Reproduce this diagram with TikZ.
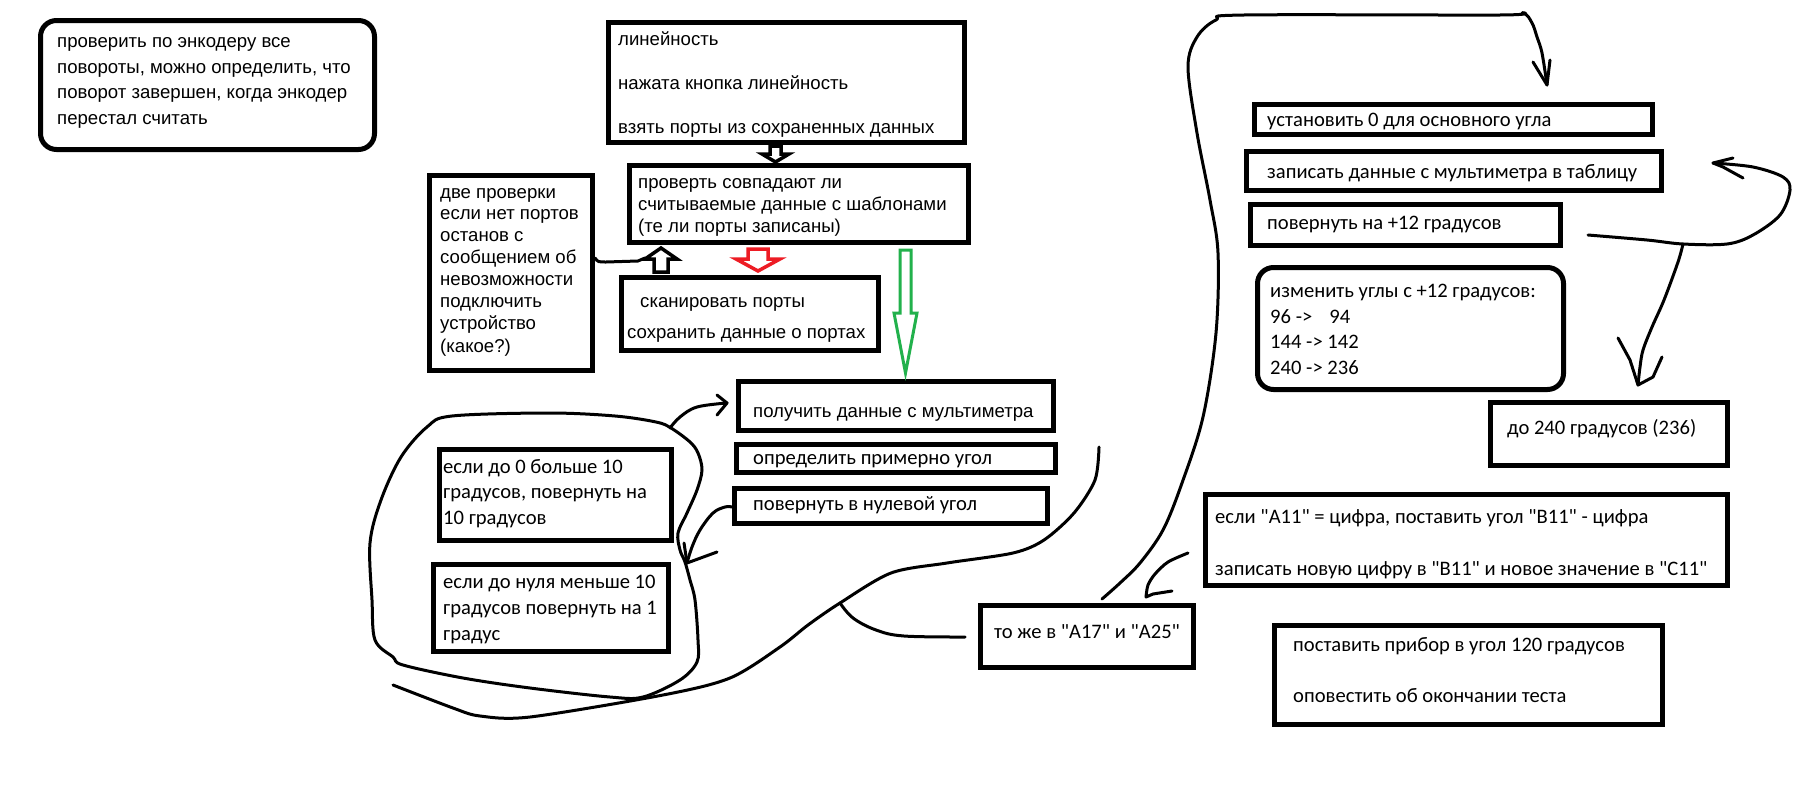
\documentclass[tikz,border=0pt]{standalone}
\usepackage{fontspec}
\newfontfamily\tahfont{Liberation Sans}
\newfontfamily\calfont{Carlito}
\definecolor{pred}{RGB}{237,28,36}
\definecolor{pgreen}{RGB}{34,177,76}
\begin{document}
\begin{tikzpicture}[x=1pt,y=-1pt,
  box/.style={draw=black, line width=5pt, inner sep=0pt, rectangle},
  rbox/.style={box, rounded corners=16pt},
  tx/.style={anchor=base west, inner sep=0pt, font=\tahfont\fontsize{18.6}{22}\selectfont},
  cx/.style={anchor=base west, inner sep=0pt, font=\calfont\fontsize{20.6}{24}\selectfont},
  hand/.style={line width=3pt, line cap=round, line join=round},
  hollow/.style={line width=3.5pt, line join=miter, fill=white}]
\useasboundingbox[fill=white] (0,0) rectangle (1817,803);

% ---------- boxes ----------
\node[rbox, minimum width=334pt, minimum height=129pt] (enc)  at (207.5,85) {};
\node[box,  minimum width=163pt, minimum height=195pt] (two)  at (511,273) {};
\node[box,  minimum width=356pt, minimum height=120pt] (lin)  at (786.5,82.5) {};
\node[box,  minimum width=339pt, minimum height=77pt]  (chk)  at (799,204) {};
\node[box,  minimum width=257pt, minimum height=73pt]  (scan) at (750,314) {};
\node[box,  minimum width=315pt, minimum height=49pt]  (get)  at (896,406) {};
\node[box,  minimum width=319pt, minimum height=28pt]  (ang)  at (896,458.5) {};
\node[box,  minimum width=313pt, minimum height=35pt]  (zero) at (891,506) {};
\node[box,  minimum width=232pt, minimum height=91pt]  (gt)   at (555.5,495) {};
\node[box,  minimum width=235pt, minimum height=87pt]  (lt)   at (551,608) {};
\node[box,  minimum width=213pt, minimum height=62pt]  (same) at (1087,636.5) {};
\node[box,  minimum width=522pt, minimum height=91pt]  (cell) at (1466.5,540) {};
\node[box,  minimum width=388pt, minimum height=99pt]  (fin)  at (1468.5,675) {};
\node[box,  minimum width=398pt, minimum height=30pt]  (set)  at (1453.5,119.5) {};
\node[box,  minimum width=415pt, minimum height=39pt]  (rec)  at (1454,171) {};
\node[box,  minimum width=310pt, minimum height=41pt]  (rot)  at (1405.5,225) {};
\node[rbox, minimum width=306pt, minimum height=122pt] (chg)  at (1410.5,328.5) {};
\node[box,  minimum width=237pt, minimum height=63pt]  (upto) at (1609,434) {};

% ---------- texts ----------
\node[tx] (enc1) at (57,47)  {проверить по энкодеру все};
\node[tx] (enc2) at (57,73)  {повороты, можно определить, что};
\node[tx] (enc3) at (57,98)  {поворот завершен, когда энкодер};
\node[tx] (enc4) at (57,124) {перестал считать};

\node[tx] (two1) at (440,198) {две проверки};
\node[tx] (two2) at (440,219) {если нет портов};
\node[tx] (two3) at (440,241) {останов с};
\node[tx] (two4) at (440,263) {сообщением об};
\node[tx] (two5) at (440,285) {невозможности};
\node[tx] (two6) at (440,307) {подключить};
\node[tx] (two7) at (440,329) {устройство};
\node[tx] (two8) at (440,352) {(какое?)};

\node[tx] (lin1) at (618,45)  {линейность};
\node[tx] (lin2) at (618,89)  {нажата кнопка линейность};
\node[tx] (lin3) at (618,133) {взять порты из сохраненных данных};

\node[tx] (chk1) at (638,188) {проверть совпадают ли};
\node[tx] (chk2) at (638,210) {считываемые данные с шаблонами};
\node[tx] (chk3) at (638,232) {(те ли порты записаны)};

\node[tx] (scan1) at (640,307) {сканировать порты};
\node[tx] (scan2) at (627,338) {сохранить данные о портах};

\node[tx] (get1) at (753,417) {получить данные с мультиметра};

\node[cx] (ang1)  at (753,464) {определить примерно угол};
\node[cx] (zero1) at (753,510) {повернуть в нулевой угол};

\node[cx] (gt1) at (443,473) {если до 0 больше 10};
\node[cx] (gt2) at (443,498) {градусов, повернуть на};
\node[cx] (gt3) at (443,524) {10 градусов};

\node[cx] (lt1) at (443,588) {если до нуля меньше 10};
\node[cx] (lt2) at (443,614) {градусов повернуть на 1};
\node[cx] (lt3) at (443,640) {градус};

\node[cx] (same1) at (994,638) {то же в "A17" и "A25"};

\node[cx] (cell1) at (1215,523) {если "A11" = цифра, поставить угол "B11" - цифра};
\node[cx] (cell2) at (1215,575) {записать новую цифру в "B11" и новое значение в "C11"};

\node[cx] (fin1) at (1293,651) {поставить прибор в угол 120 градусов};
\node[cx] (fin2) at (1293,702) {оповестить об окончании теста};

\node[cx] (set1) at (1267,126) {установить 0 для основного угла};
\node[cx] (rec1) at (1267,178) {записать данные с мультиметра в таблицу};
\node[cx] (rot1) at (1267,229) {повернуть на +12 градусов};

\node[cx] (chg1) at (1270,297) {изменить углы с +12 градусов:};
\node[cx] (chg2) at (1270,323) {96 ->\hspace{17pt}94};
\node[cx] (chg3) at (1270,348) {144 -> 142};
\node[cx] (chg4) at (1270,374) {240 -> 236};

\node[cx] (upto1) at (1507,434) {до 240 градусов (236)};

% ---------- block arrows ----------
\draw[hollow] (770,146) -- (781,146) -- (781,154) -- (789,154) -- (775.5,162)
  -- (762,154) -- (770,154) -- cycle;
\draw[hollow] (654,272) -- (668,272) -- (668,259) -- (677,259) -- (661,248)
  -- (645,259) -- (654,259) -- cycle;
\draw[hollow, draw=pred] (748,249) -- (768,249) -- (768,259) -- (780,259)
  -- (758,271) -- (736,259) -- (748,259) -- cycle;
\draw[hollow, draw=pgreen, line width=3pt] (900,250) -- (911,250) -- (911,313)
  -- (917,313) -- (905.5,373) -- (894,313) -- (900,313) -- cycle;

% ---------- free-hand connectors ----------
\coordinate (upL) at (645,258);
\draw[hand] ([yshift=15pt]two.east) .. controls (598,262) .. (606,262)
  -- (638,261) -- (upL);

% from "то же" up and over to the zero-angle step
\coordinate (aStart) at (1102,599);
\coordinate (aTip) at (1547,85);
\draw[hand] plot[smooth, tension=0.55] coordinates {(aStart) (1120,583) (1140,563)
  (1163,530) (1182,483) (1203,417) (1216,333) (1218,253) (1210,200) (1197,133)
  (1188,67) (1197,37) (1216,20) (1244,15) (1500,15) (1523,13) (1532,23) (1537,37)
  (1542,53) (aTip)};
\draw[hand] (1533,62) -- (aTip) -- (1550,60);

% from the cell box to "то же"
\coordinate (bStart) at (1188,553);
\coordinate (bTip) at (1146,597);
\draw[hand] plot[smooth, tension=0.5] coordinates {(bStart) (1168,562) (1155,574)
  (1148,585) (bTip)};
\draw[hand] (bTip) -- (1153,594) -- (1172,591);

% repeat loop: +12 degrees back to recording
\coordinate (cStart) at (1588,235);
\coordinate (cTip) at (1713,163);
\coordinate (cFork) at (1683,244);
\draw[hand] plot[smooth, tension=0.55] coordinates {(cStart) (1647,240) (cFork)
  (1727,244) (1753,235) (1780,215) (1790,190) (1783,177) (1753,167) (cTip)};
\draw[hand] (1733,158) -- (cTip) -- (1723,167) -- (1743,178);

% exit of the loop down to 240 degrees
\coordinate (dTip) at (1638,385);
\draw[hand] plot[smooth, tension=0.55] coordinates {(cFork) (1678,262) (1664,300)
  (1652,327) (1643,350) (1640,367) (dTip)};
\draw[hand] (1618,338) -- (1630,360) -- (dTip) -- (1653,377) -- (1662,357);

% long sweep under the multimeter steps
\coordinate (eStart) at (1099,447);
\coordinate (eEnd) at (393,685);
\coordinate (eFork) at (840,603);
\draw[hand] plot[smooth, tension=0.5] coordinates {(eStart) (1095,480) (1074,513)
  (1044,540) (1013,553) (947,563) (891,573) (eFork) (808,625) (780,647) (730,678)
  (663,695) (530,717) (480,716) (453,708) (eEnd)};
\coordinate (eTo) at (965,637);
\draw[hand] plot[smooth, tension=0.6] coordinates {(eFork) (853,618) (876,630)
  (904,636) (eTo)};

% loop around the two rotation rules
\draw[hand] plot[smooth cycle, tension=0.55] coordinates {(671,428) (656,422)
  (615,416) (549,413) (452,416) (427,427) (401,457) (381,500) (370,543) (372,600)
  (375,640) (393,657) (403,665) (463,678) (530,688) (610,697) (643,697) (680,680)
  (697,662) (698,640) (695,600) (690,580) (685,562) (680,550) (678,533) (687,513)
  (697,490) (702,470) (698,453) (690,442)};

% loop back to reading the multimeter
\coordinate (fStart) at (670,428);
\coordinate (fTip) at (727,403);
\draw[hand] plot[smooth, tension=0.6] coordinates {(fStart) (680,417) (697,407) (fTip)};
\draw[hand] (717,395) -- (fTip) -- (717,415);

% from the zero-angle step into the loop
\coordinate (gTip) at (687,563);
\draw[hand] plot[smooth, tension=0.6] coordinates {([yshift=-1pt]zero.west) (725,507)
  (713,513) (700,530) (692,547) (gTip)};
\draw[hand] (717,552) -- (gTip) -- (684,543);
\end{tikzpicture}
\end{document}
